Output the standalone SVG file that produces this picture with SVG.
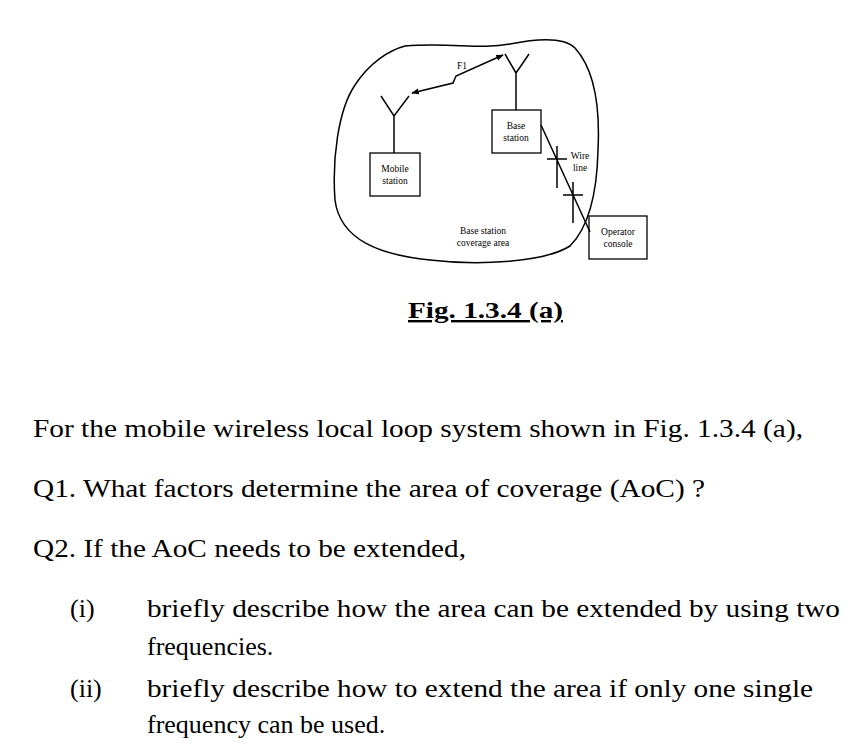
<svg xmlns="http://www.w3.org/2000/svg" width="858" height="748" viewBox="0 0 858 748">
<style>
.l{fill:none;stroke:#000;stroke-width:1.5}
.b{fill:#fff;stroke:#000;stroke-width:1.3}
.s{font-family:"Liberation Serif",serif;font-size:9.5px;text-anchor:middle}
.t{font-family:"Liberation Serif",serif;font-size:26px}
</style>
<defs><marker id="a" viewBox="0 0 10 10" refX="9" refY="5" markerWidth="5" markerHeight="5" orient="auto-start-reverse"><path d="M0,1L10,5L0,9z"/></marker></defs>
<rect width="858" height="748" fill="#fff"/>
<path id="area" class="l" d="M405,46 C450,42 480,50 510,44 C540,38 565,38 575,48 C595,70 600,110 598,150 C597,195 588,228 570,246 C545,262 480,266 430,260 C380,255 340,240 335,200 C332,160 338,110 355,85 C370,62 390,50 405,46 Z"/>
<g id="mobile"><path class="l" d="M394,153V116M381,96L394,116L409,96"/><rect class="b" x="370" y="153" width="50" height="43"/><text class="s" x="395" y="172">Mobile</text><text class="s" x="395" y="184">station</text></g>
<g id="base"><path class="l" d="M516,110V73M505,54L516,73L529,54"/><rect class="b" x="492" y="110" width="49" height="43"/><text class="s" x="516" y="129">Base</text><text class="s" x="516" y="141">station</text></g>
<g id="console"><rect class="b" x="589" y="216" width="58" height="43"/><text class="s" x="618" y="235">Operator</text><text class="s" x="618" y="247">console</text></g>
<g id="connectors">
<path class="l" d="M412,93L453,83L456,76L503,55" marker-start="url(#a)" marker-end="url(#a)"/>
<path class="l" d="M541,125L590,232M557,146V188M547,159H567M573,182V223M563,195H583"/>
</g>
<text class="s" x="462" y="69">F1</text>
<text class="s" x="580" y="159">Wire</text><text class="s" x="580" y="171">line</text>
<text class="s" x="483" y="234">Base station</text><text class="s" x="483" y="246">coverage area</text>
<text x="408" y="318" font-family="Liberation Serif,serif" font-size="24" font-weight="bold" text-decoration="underline" textLength="155" lengthAdjust="spacingAndGlyphs">Fig. 1.3.4 (a)</text>
<text class="t" x="33" y="437" textLength="770" lengthAdjust="spacingAndGlyphs">For the mobile wireless local loop system shown in Fig. 1.3.4 (a),</text>
<text class="t" x="33" y="497" textLength="672" lengthAdjust="spacingAndGlyphs">Q1. What factors determine the area of coverage (AoC) ?</text>
<text class="t" x="33" y="557" textLength="433" lengthAdjust="spacingAndGlyphs">Q2. If the AoC needs to be extended,</text>
<text class="t" x="70" y="617">(i)</text>
<text class="t" x="147" y="617" textLength="693" lengthAdjust="spacingAndGlyphs">briefly describe how the area can be extended by using two</text>
<text class="t" x="147" y="655">frequencies.</text>
<text class="t" x="70" y="697">(ii)</text>
<text class="t" x="147" y="697" textLength="666" lengthAdjust="spacingAndGlyphs">briefly describe how to extend the area if only one single</text>
<text class="t" x="147" y="733">frequency can be used.</text>
</svg>
